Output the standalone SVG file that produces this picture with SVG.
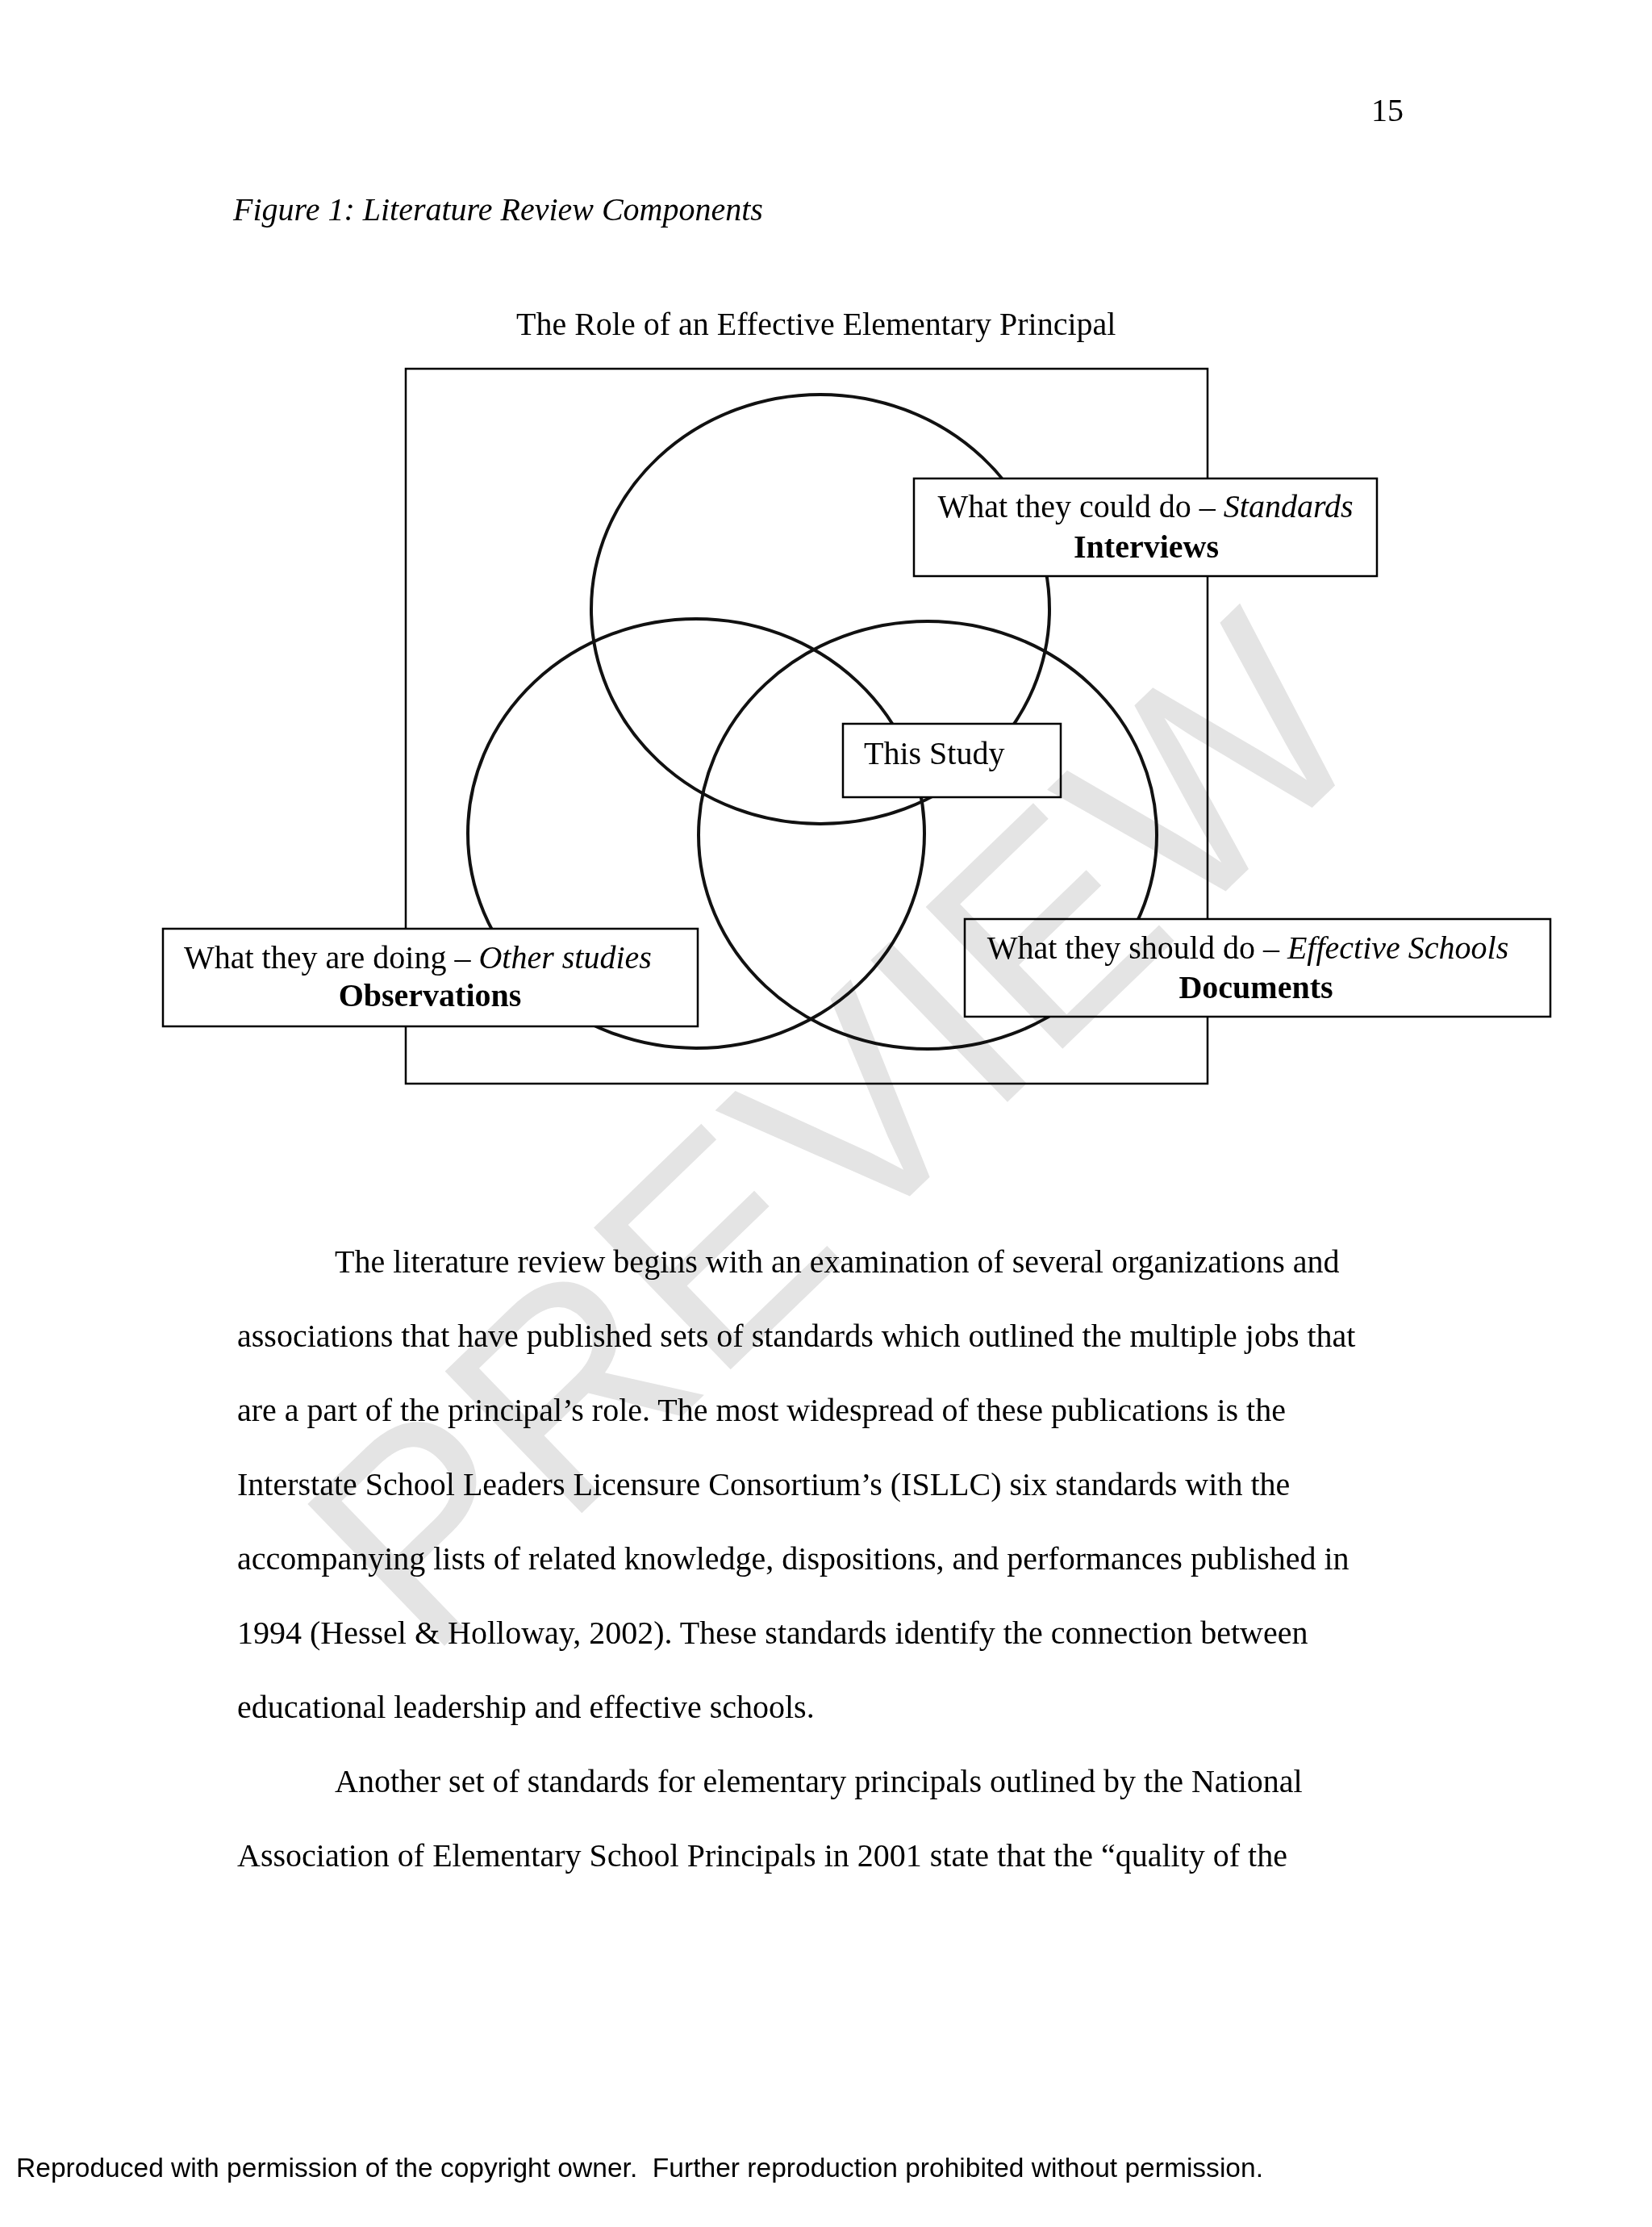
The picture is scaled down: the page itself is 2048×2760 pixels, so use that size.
<svg xmlns="http://www.w3.org/2000/svg" width="2048" height="2760" viewBox="0 0 2048 2760">
<style>
.t{font-family:"Liberation Serif","Times New Roman",serif;font-size:40px;fill:#000}
.i{font-style:italic}
.b{font-weight:bold}
.box{fill:#fff;stroke:#000;stroke-width:2.5}
.circ{fill:none;stroke:#111;stroke-width:4}
.frame{fill:none;stroke:#000;stroke-width:2.5}
.foot{font-family:"Liberation Sans",Arial,sans-serif;font-size:34px;fill:#000}
.wm{font-family:"Liberation Sans",Arial,sans-serif;font-size:355px;fill:#e4e4e4;mix-blend-mode:multiply}
</style>
<rect width="2048" height="2760" fill="#fff"/>
<text class="t" x="1700" y="150">15</text>
<text class="t i" x="289" y="273">Figure 1: Literature Review Components</text>
<text class="t" x="640" y="415">The Role of an Effective Elementary Principal</text>
<g id="frame"><rect class="frame" x="503" y="457" width="994" height="886"/></g>
<g id="circle-standards"><ellipse class="circ" cx="1017" cy="755" rx="284" ry="266"/></g>
<g id="circle-other-studies"><ellipse class="circ" cx="863" cy="1033" rx="283" ry="266"/></g>
<g id="circle-effective-schools"><ellipse class="circ" cx="1150" cy="1035" rx="284" ry="265"/></g>
<g id="connectors"></g>
<g id="box-could">
<rect class="box" x="1133" y="593" width="574" height="121"/>
<text class="t" x="1420" y="641" text-anchor="middle">What they could do – <tspan class="i">Standards</tspan></text>
<text class="t b" x="1421" y="691" text-anchor="middle">Interviews</text>
</g>
<g id="box-study">
<rect class="box" x="1045" y="897" width="270" height="91"/>
<text class="t" x="1071" y="947">This Study</text>
</g>
<g id="box-doing">
<rect class="box" x="202" y="1151" width="663" height="121"/>
<text class="t" x="228" y="1200">What they are doing – <tspan class="i">Other studies</tspan></text>
<text class="t b" x="533" y="1247" text-anchor="middle">Observations</text>
</g>
<g id="box-should">
<rect class="box" x="1196" y="1139" width="726" height="121"/>
<text class="t" x="1547" y="1188" text-anchor="middle">What they should do – <tspan class="i">Effective Schools</tspan></text>
<text class="t b" x="1557" y="1237" text-anchor="middle">Documents</text>
</g>
<g id="body">
<text class="t" x="415" y="1577">The literature review begins with an examination of several organizations and</text>
<text class="t" x="294" y="1669">associations that have published sets of standards which outlined the multiple jobs that</text>
<text class="t" x="294" y="1761">are a part of the principal’s role. The most widespread of these publications is the</text>
<text class="t" x="294" y="1853">Interstate School Leaders Licensure Consortium’s (ISLLC) six standards with the</text>
<text class="t" x="294" y="1945">accompanying lists of related knowledge, dispositions, and performances published in</text>
<text class="t" x="294" y="2037">1994 (Hessel &amp; Holloway, 2002). These standards identify the connection between</text>
<text class="t" x="294" y="2129">educational leadership and effective schools.</text>
<text class="t" x="415" y="2221">Another set of standards for elementary principals outlined by the National</text>
<text class="t" x="294" y="2313">Association of Elementary School Principals in 2001 state that the “quality of the</text>
</g>
<text class="foot" x="20" y="2698" textLength="1546" lengthAdjust="spacingAndGlyphs">Reproduced with permission of the copyright owner.&#160; Further reproduction prohibited without permission.</text>
<text class="wm" x="530" y="2060" transform="rotate(-44 530 2060)">PREVIEW</text>
</svg>
